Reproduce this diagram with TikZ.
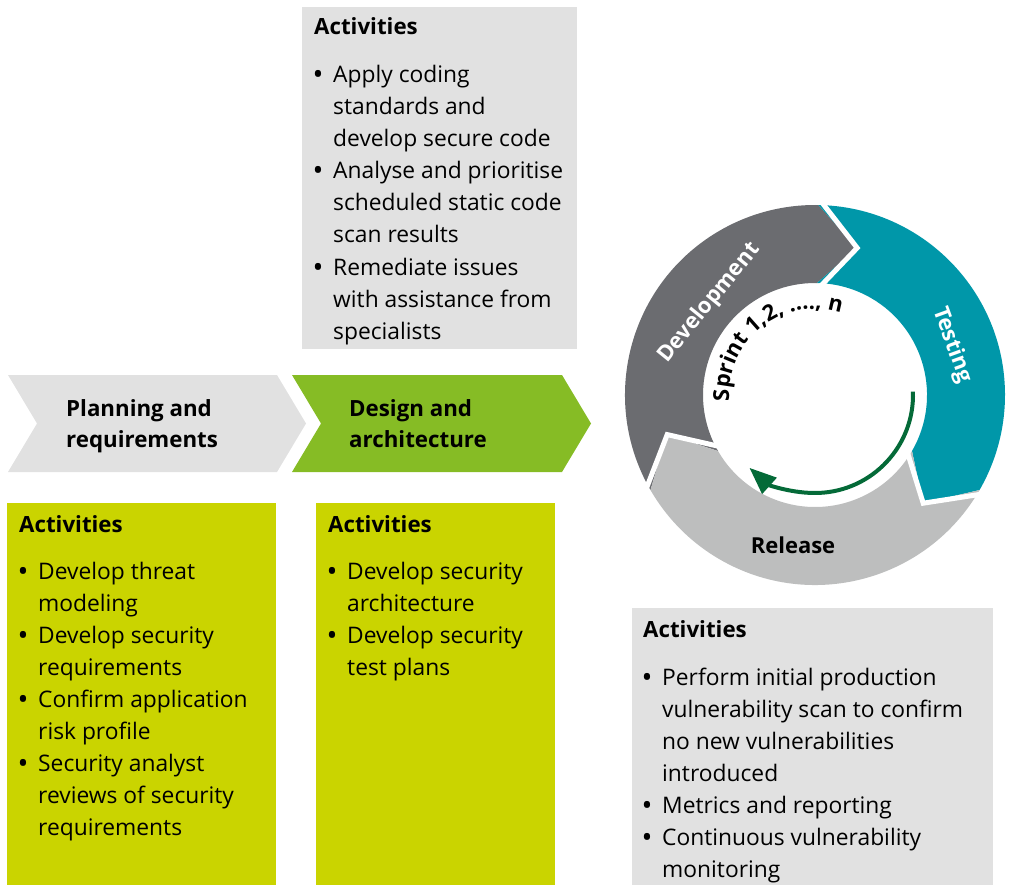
\documentclass[tikz,border=0pt]{standalone}
\usepackage{fontspec}
\setmainfont{Open Sans}
\usetikzlibrary{arrows.meta,decorations.text}
\definecolor{lgray}{HTML}{E1E1E1}
\definecolor{chevgreen}{HTML}{86BC25}
\definecolor{limebox}{HTML}{CAD400}
\definecolor{devgray}{HTML}{6B6C70}
\definecolor{testteal}{HTML}{0097A9}
\definecolor{relgray}{HTML}{BDBEBE}
\definecolor{arrowgreen}{HTML}{046A38}
\newcommand\sprintfont{\fontsize{22}{24}\selectfont\bfseries}
\begin{document}
\begin{tikzpicture}[x=1pt,y=-1pt,
  txt/.style={anchor=base west, inner sep=0pt, font=\fontsize{22.8}{32}\selectfont},
  hd/.style={anchor=base west, inner sep=0pt, font=\fontsize{22.3}{32}\selectfont\bfseries},
  bul/.style={anchor=base, inner sep=0pt, font=\fontsize{29}{32}\selectfont},
  ringtxt/.style={inner sep=0pt, font=\fontsize{22}{26}\selectfont\bfseries}]
\useasboundingbox (0,0) rectangle (1011,885);

% boxes
\fill[lgray] (302,7) rectangle (577,349);
\fill[limebox] (7,503) rectangle (276,885);
\fill[limebox] (316,503) rectangle (555,885);
\fill[lgray] (632,608) rectangle (993,885);

% chevrons
\fill[lgray] (8,375) -- (277,375) -- (306,423.5) -- (277,472) -- (8,472) -- (37,423.5) -- cycle;
\fill[chevgreen] (292,375) -- (562,375) -- (591,423.5) -- (562,472) -- (292,472) -- (321,423.5) -- cycle;
\node[hd, name=pl1] at (66,416) {Planning and};
\node[hd, name=pl2] at (66,447) {requirements};
\node[hd, name=de1] at (349,416) {Design and};
\node[hd, name=de2] at (349,447) {architecture};

% top box
\node[hd, name=h1] at (314,35) {Activities};
\foreach \yy/\s [count=\i] in {83/Apply coding, 115/standards and, 147/develop secure code,
  179/Analyse and prioritise, 211/scheduled static code, 243/scan results,
  275/Remediate issues, 307/with assistance from, 339/specialists}
  \node[txt, name=a\i] at (333,\yy) {\s};
\foreach \yy [count=\i] in {83,179,275}
  \node[bul, name=ab\i] at (318,\yy+2) {•};

% box 1
\node[hd, name=h2] at (19,532) {Activities};
\foreach \yy/\s [count=\i] in {579/Develop threat, 611/modeling, 643/Develop security,
  675/requirements, 707/Confirm application, 739/risk profile,
  771/Security analyst, 803/reviews of security, 835/requirements}
  \node[txt, name=b\i] at (38,\yy) {\s};
\foreach \yy [count=\i] in {579,643,707,771}
  \node[bul, name=bb\i] at (23,\yy+2) {•};

% box 2
\node[hd, name=h3] at (328,532) {Activities};
\foreach \yy/\s [count=\i] in {579/Develop security, 611/architecture, 643/Develop security, 675/test plans}
  \node[txt, name=c\i] at (347,\yy) {\s};
\foreach \yy [count=\i] in {579,643}
  \node[bul, name=cb\i] at (332,\yy+2) {•};

% box 3
\node[hd, name=h4] at (643,637) {Activities};
\foreach \yy/\s [count=\i] in {685/Perform initial production, 717/vulnerability scan to confirm,
  749/no new vulnerabilities, 781/introduced, 813/Metrics and reporting,
  845/Continuous vulnerability, 877/monitoring}
  \node[txt, name=d\i] at (662,\yy) {\s};
\foreach \yy [count=\i] in {685,813,845}
  \node[bul, name=db\i] at (647,\yy+2) {•};

% cycle
\begin{scope}[shift={(815,395)}]
  \fill[devgray] (150:190) arc[start angle=150,end angle=271,radius=190] -- (286:153) -- (271:112)
     arc[start angle=271,end angle=150,radius=112] -- (165:153) -- cycle;
  \fill[testteal] (271:190) arc[start angle=271,end angle=390,radius=190] -- (45:153) -- (30:112)
     arc[start angle=390,end angle=271,radius=112] -- (286:153) -- cycle;
  \fill[relgray] (30:190) arc[start angle=30,end angle=150,radius=190] -- (165:153) -- (150:112)
     arc[start angle=150,end angle=30,radius=112] -- (45:153) -- cycle;
  \draw[white, line width=5pt] (271:197) -- (286:153) -- (271:105);
  \draw[white, line width=5pt] (30:197) -- (45:153) -- (30:105);
  \draw[white, line width=5pt] (150:197) -- (165:153) -- (150:105);

  \node[ringtxt, white, rotate=51, name=dev] at (221:140) {Development};
  \node[ringtxt, white, rotate=-70, name=tst] at (340:146) {Testing};
  \node[ringtxt, black, name=rel] at (-22,150) {Release};

  \draw[arrowgreen, line width=4pt, -{Triangle[length=27pt,width=21pt]}]
     (-2:98) arc[start angle=-2,end angle=132,radius=98];

  \path[decorate, decoration={text along path, text={|\sprintfont|Sprint 1,2, ...., n}}]
     (176:86) arc[start angle=176,end angle=300,radius=86];
\end{scope}
\end{tikzpicture}
\end{document}
